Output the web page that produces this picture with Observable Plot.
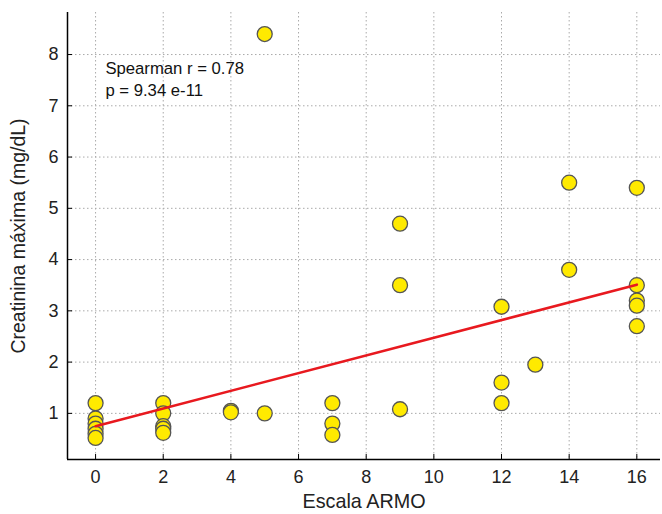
<!DOCTYPE html>
<html>
<head>
<meta charset="utf-8">
<script src="https://cdn.jsdelivr.net/npm/d3@7"></script>
<script src="https://cdn.jsdelivr.net/npm/@observablehq/plot@0.6"></script>
<style>
  html, body { margin: 0; padding: 0; background: #fff; }
  #chart svg { display: block; }
</style>
</head>
<body>
<div id="chart"></div>
<script>
// Data
const armo = [0,0,0,0,0,0, 2,2,2,2,2, 4,4, 5,5, 7,7,7, 9,9,9, 12,12,12, 13, 14,14, 16,16,16,16,16];
const creatinina = [1.2,0.9,0.8,0.7,0.6,0.52, 1.2,1.0,0.75,0.7,0.62, 1.05,1.02, 8.4,1.0, 1.2,0.8,0.58, 4.7,3.5,1.08, 3.08,1.6,1.2, 1.95, 5.5,3.8, 5.4,3.5,3.2,3.1,2.7];
const fitX = [0, 16];
const fitY = [0.75, 3.51];
const xTicks = [0,2,4,6,8,10,12,14,16];
const yTicks = [1,2,3,4,5,6,7,8];
const annotation = ["Spearman r = 0.78", "p = 9.34 e-11"];

const points = armo.map((x, i) => ({x, y: creatinina[i]}));
const fit = fitX.map((x, i) => ({x, y: fitY[i]}));

const xDomain = [-0.83, 16.7];
const yDomain = [0.1, 8.82];
const font = "Liberation Sans, Arial, Helvetica, sans-serif";
const grid = {stroke: "#aaa", strokeOpacity: 1, strokeWidth: 1, strokeDasharray: "1.5,2.5"};

const chart = Plot.plot({
  width: 662,
  height: 514,
  marginLeft: 67,
  marginRight: 2,
  marginTop: 12,
  marginBottom: 55,
  style: {fontFamily: font, fontSize: "18px", color: "#222", background: "#fff"},
  x: {domain: xDomain, label: null},
  y: {domain: yDomain, label: null},
  marks: [
    Plot.ruleX(xTicks, {x: d => d, ...grid}),
    Plot.ruleY(yTicks, {y: d => d, ...grid}),
    // tick labels
    Plot.axisX(xTicks, {tickSize: 0, tickPadding: 11, fontSize: 18, fill: "#222", tickFormat: d => String(d)}),
    Plot.axisY(yTicks, {tickSize: 0, tickPadding: 9, fontSize: 18, fill: "#222", tickFormat: d => String(d)}),
    // inward tick marks
    Plot.axisX(xTicks, {tickSize: 5, dy: -5, tickFormat: () => "", stroke: "#000"}),
    Plot.axisY(yTicks, {tickSize: 5, dx: 5, tickFormat: () => "", stroke: "#000"}),
    // axis lines
    Plot.ruleX([xDomain[0]], {stroke: "#000", strokeWidth: 1.5}),
    Plot.ruleY([yDomain[0]], {stroke: "#000", strokeWidth: 1.5}),
    // points
    Plot.dot(points, {x: "x", y: "y", r: 7.5, fill: "#ffea00", stroke: "#555", strokeWidth: 1.3}),
    // fit line
    Plot.line(fit, {x: "x", y: "y", stroke: "#e8191f", strokeWidth: 2.6}),
    // annotation
    Plot.text(annotation, {
      x: 0.29, y: d => d === annotation[0] ? 7.73 : 7.3,
      text: d => d, textAnchor: "start", fontSize: 16.7, fill: "#111"
    }),
    // axis titles
    Plot.text(["Escala ARMO"], {frameAnchor: "bottom", dy: 48, text: d => d, fontSize: 19.8, fill: "#222"}),
    Plot.text(["Creatinina máxima (mg/dL)"], {frameAnchor: "left", textAnchor: "middle", dx: -49, rotate: -90, text: d => d, fontSize: 19.5, fill: "#222"})
  ]
});
document.getElementById("chart").appendChild(chart);
</script>
</body>
</html>
